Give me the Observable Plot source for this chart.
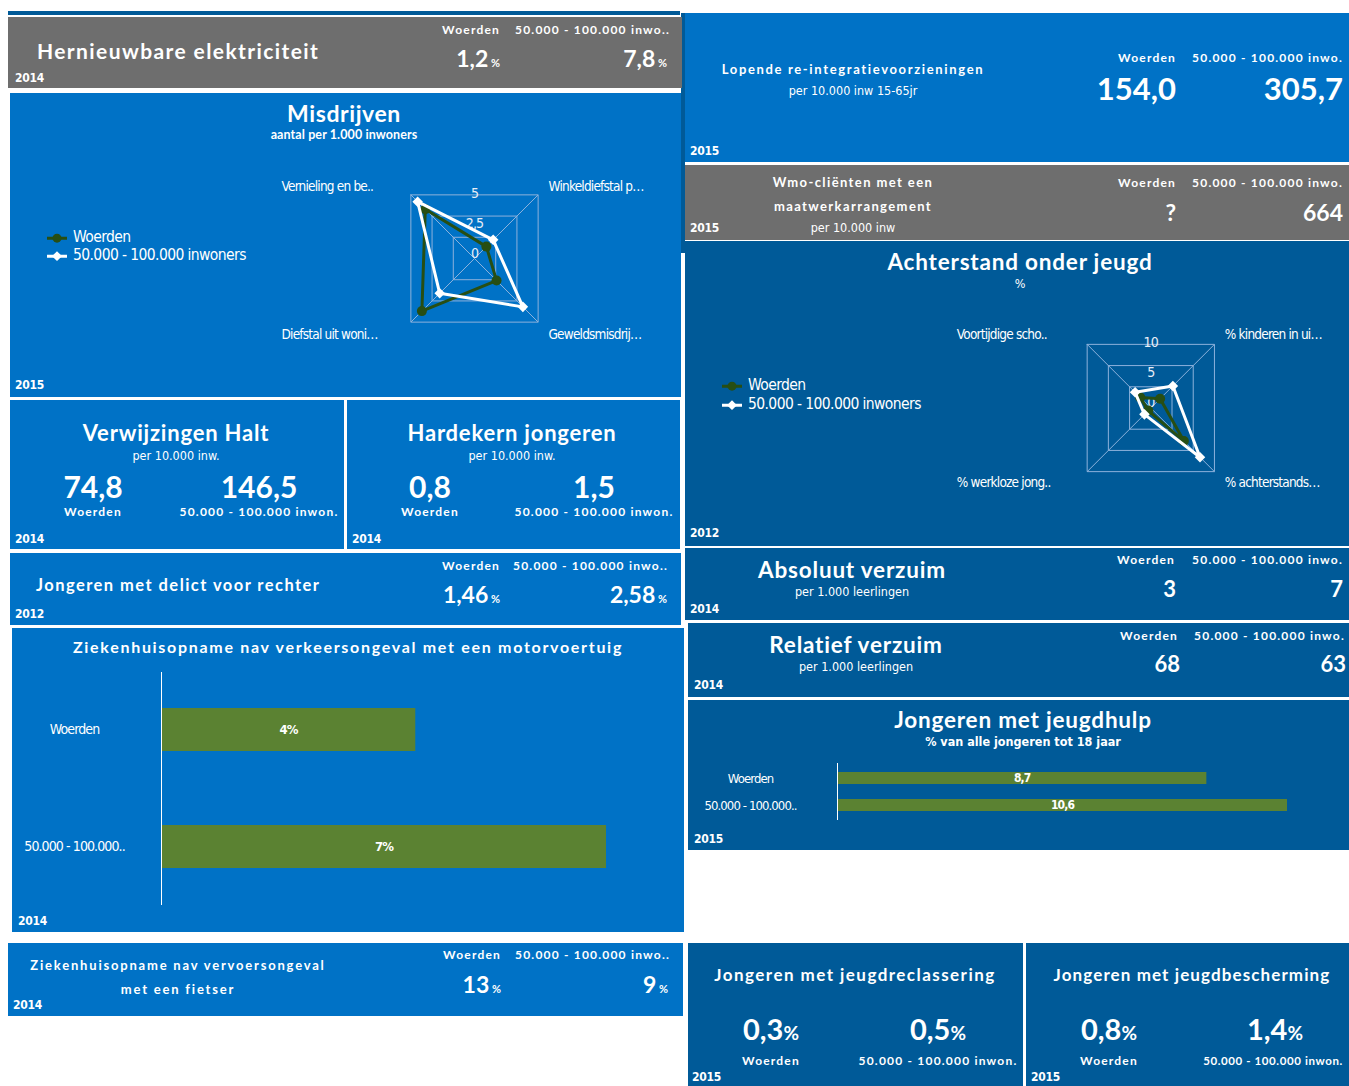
<!DOCTYPE html>
<html><head><meta charset="utf-8">
<script src="https://cdn.jsdelivr.net/npm/d3@7"></script>
<script src="https://cdn.jsdelivr.net/npm/@observablehq/plot@0.6"></script>
<style>
body{margin:0;background:#fff;width:1349px;height:1086px;overflow:hidden;position:relative;font-family:Lato,"Open Sans",sans-serif;}
.p{position:absolute;overflow:hidden;color:#fff;}
.t{position:absolute;white-space:nowrap;line-height:1;}
.p svg{position:absolute;left:0;top:0;}
</style></head><body><script>
// ---------- data ----------
const groups = ["Woerden", "50.000 - 100.000 inwoners"];
const misdrijvenCats = ["Vernieling en be..", "Winkeldiefstal p…", "Geweldsmisdrij…", "Diefstal uit woni…"];
const misdrijvenWoerden = [5.8, 1.4, 2.6, 6.2];
const misdrijvenRef = [6.7, 2.2, 5.7, 4.1];
const misdrijvenRings = [2.5, 5, 7.5];
const misdrijvenTicks = [0, 2.5, 5];
const achterstandCats = ["Voortijdige scho..", "% kinderen in ui…", "% achterstands…", "% werkloze jong.."];
const achterstandWoerden = [2.5, 2.2, 7.8, 0.6];
const achterstandRef = [3.7, 5.2, 11.6, 1.5];
const achterstandRings = [5, 10, 15];
const achterstandTicks = [0, 5, 10];
const motorCats = ["Woerden", "50.000 - 100.000.."];
const motorValues = [4, 7];
const jeugdhulpCats = ["Woerden", "50.000 - 100.000.."];
const jeugdhulpValues = [8.7, 10.6];
const hernieuwbare = ["1,2", "7,8"];
const reintegratie = ["154,0", "305,7"];
const wmo = ["?", "664"];
const halt = ["74,8", "146,5"];
const hardekern = ["0,8", "1,5"];
const delict = ["1,46", "2,58"];
const fietser = ["13", "9"];
const absVerzuim = ["3", "7"];
const relVerzuim = ["68", "63"];
const reclassering = ["0,3", "0,5"];
const bescherming = ["0,8", "1,4"];

// ---------- styles ----------
const BLUE = "#0072c6", DARK = "#005a98", GRAY = "#6e6e6e", GREEN = "#5b8232", WGREEN = "#274e13";
const NARROW = '"Liberation Sans Narrow","DejaVu Sans Condensed","Liberation Sans",sans-serif';
const TITLE = 'Lato,"Open Sans",sans-serif';

function panel(x, y, w, h, bg) {
  const d = document.createElement("div");
  d.className = "p";
  Object.assign(d.style, {left: x + "px", top: y + "px", width: w + "px", height: h + "px", background: bg});
  d._x = x; d._y = y;
  document.body.appendChild(d);
  return d;
}
function T(p, html, x, y, o = {}) {
  const d = document.createElement("div");
  d.className = "t";
  d.innerHTML = html;
  const a = o.anchor || "start";
  const tx = a === "middle" ? "-50%" : a === "end" ? "-100%" : "0";
  Object.assign(d.style, {
    left: (x - p._x) + "px", top: (y - p._y) + "px",
    transform: `translate(${tx},-50%)`,
    fontSize: (o.size || 12) + "px",
    fontWeight: o.weight || "bold",
    fontFamily: o.font || TITLE,
    letterSpacing: (o.ls || 0) + "px",
    color: o.color || "#fff"
  });
  p.appendChild(d);
  return d;
}
const year = (p, s, x, y) => T(p, s, x, y, {size: 12, font: NARROW, ls: -0.3});
const head = (p, s, x, y, a = "end", size = 12, ls = 1.2) => T(p, s, x, y, {size, ls, anchor: a});
const pct = (v, s = 11) => `${v}<span style="font-size:${s}px"> %</span>`;
const pct2 = (v, s = 19) => `${v}<span style="font-size:${s}px">%</span>`;

function legend(p, x, y1, y2) {
  const mk = [
    `<svg width="20" height="12" style="position:static;vertical-align:middle"><line x1="0" y1="6" x2="20" y2="6" stroke="${WGREEN}" stroke-width="3"/><circle cx="10" cy="6" r="4.5" fill="${WGREEN}"/></svg>`,
    `<svg width="20" height="12" style="position:static;vertical-align:middle"><line x1="0" y1="6" x2="20" y2="6" stroke="#fff" stroke-width="3"/><rect x="6.5" y="2.5" width="7" height="7" fill="#fff" transform="rotate(45 10 6)"/></svg>`
  ];
  [y1, y2].forEach((y, i) => {
    T(p, `${mk[i]}<span style="margin-left:6px;vertical-align:middle">${groups[i]}</span>`, x, y,
      {size: 15.5, weight: "normal", font: NARROW, ls: -0.6});
  });
}

const fmt = v => String(v).replace(".", ",");

function radar(p, o) {
  const ang = o.cats.map((c, i) => (135 - 90 * i) * Math.PI / 180);
  const pt = (v, i) => ({x: v * Math.cos(ang[i]), y: v * Math.sin(ang[i])});
  const maxR = d3.max(o.rings);
  const ring = o.rings.flatMap(r => [...o.cats.map((c, i) => ({...pt(r, i), r})), {...pt(r, 0), r}]);
  const spokes = o.cats.map((c, i) => ({x2: pt(maxR, i).x, y2: pt(maxR, i).y}));
  const series = vals => vals.map((v, i) => ({...pt(v, i), cat: o.cats[i], v}));
  const s1 = series(o.a), s2 = series(o.b);
  const closed = s => [...s, s[0]];
  const labels = o.cats.map((c, i) => ({
    c,
    x: (Math.cos(ang[i]) > 0 ? o.lx[1] : o.lx[0]) / o.ppu,
    y: (Math.sin(ang[i]) > 0 ? o.ly[0] : o.ly[1]) / o.ppu
  }));
  const svg = Plot.plot({
    width: o.w, height: o.h, margin: 0,
    x: {domain: [-o.cx / o.ppu, (o.w - o.cx) / o.ppu], axis: null},
    y: {domain: [-(o.h - o.cy) / o.ppu, o.cy / o.ppu], axis: null},
    style: {background: "transparent", fontFamily: NARROW, fontSize: "13px", color: "#fff", overflow: "visible", letterSpacing: "-0.8px"},
    marks: [
      Plot.line(ring, {x: "x", y: "y", z: "r", stroke: "#8db2dc", strokeWidth: 1}),
      Plot.link(spokes, {x1: 0, y1: 0, x2: "x2", y2: "y2", stroke: "#8db2dc", strokeWidth: 1}),
      Plot.text(o.ticks, {x: 0, y: d => d, text: d => fmt(d), dy: -5, fill: "#e8eef7", fontSize: 14}),
      Plot.line(closed(s1), {x: "x", y: "y", stroke: WGREEN, strokeWidth: 3}),
      Plot.dot(s1, {x: "x", y: "y", r: 5, fill: WGREEN}),
      Plot.line(closed(s2), {x: "x", y: "y", stroke: "#fff", strokeWidth: 3}),
      Plot.dot(s2, {x: "x", y: "y", symbol: "square", r: 4.2, fill: "#fff", rotate: 45}),
      Plot.text(labels, {x: "x", y: "y", text: "c", textAnchor: "start", fill: "#fff", fontSize: 13.5})
    ]
  });
  p.appendChild(svg);
}

function bars(p, o) {
  const data = o.cats.map((c, i) => ({c, v: o.values[i], label: o.fmt(o.values[i])}));
  const svg = Plot.plot({
    width: o.w, height: o.h,
    marginLeft: o.ml, marginRight: o.mr, marginTop: o.mt, marginBottom: o.mb,
    x: {domain: [0, d3.max(o.values)], axis: null},
    y: {domain: o.cats, paddingInner: o.pi, paddingOuter: o.po, label: null},
    style: {background: "transparent", fontFamily: NARROW, fontSize: o.fs + "px", color: "#fff", overflow: "visible", letterSpacing: "-0.9px"},
    marks: [
      Plot.barX(data, {x: "v", y: "c", fill: GREEN}),
      Plot.ruleX([0], {stroke: "#fff", strokeWidth: 1}),
      Plot.axisY({tickSize: 0, tickPadding: o.tp, textAnchor: "middle", fill: "#fff", fontSize: o.fs, label: null}),
      Plot.text(data, {x: d => d.v / 2, y: "c", text: "label", fill: "#fff", fontWeight: "bold", fontSize: o.vs})
    ]
  });
  p.appendChild(svg);
}

// ---------- left column ----------
panel(8, 11, 672, 4, DARK);
panel(681, 13, 4, 240, DARK);

let p = panel(8, 17, 674, 71, GRAY);
T(p, "Hernieuwbare elektriciteit", 37, 50, {size: 21, ls: 1.4});
year(p, "2014", 15, 78);
head(p, "Woerden", 500, 30); head(p, "50.000 - 100.000 inwo..", 670, 30);
T(p, pct(hernieuwbare[0]), 500, 58, {size: 23, anchor: "end"});
T(p, pct(hernieuwbare[1]), 667, 58, {size: 23, anchor: "end"});

p = panel(10, 93, 671, 304, BLUE);
T(p, "Misdrijven", 344, 113, {size: 23, ls: 0.6, anchor: "middle"});
T(p, "aantal per 1.000 inwoners", 344, 135, {size: 12.5, anchor: "middle", ls: 0.1});
year(p, "2015", 15, 385);
legend(p, 47, 238, 256);
radar(p, {cats: misdrijvenCats, a: misdrijvenWoerden, b: misdrijvenRef, rings: misdrijvenRings, ticks: misdrijvenTicks,
  w: 671, h: 304, cx: 464, cy: 165, ppu: 12, lx: [-193, 74], ly: [72, -76]});

p = panel(10, 400, 334, 149, BLUE);
T(p, "Verwijzingen Halt", 176, 433, {size: 22, ls: 0.8, anchor: "middle"});
T(p, "per 10.000 inw.", 176, 456, {size: 12.5, font: NARROW, weight: "normal", anchor: "middle"});
T(p, halt[0], 93, 486, {size: 30, anchor: "middle"});
T(p, halt[1], 259, 486, {size: 30, anchor: "middle"});
head(p, "Woerden", 93, 512, "middle"); head(p, "50.000 - 100.000 inwon.", 259, 512, "middle");
year(p, "2014", 15, 539);

p = panel(347, 400, 333, 149, BLUE);
T(p, "Hardekern jongeren", 512, 433, {size: 22, ls: 0.8, anchor: "middle"});
T(p, "per 10.000 inw.", 512, 456, {size: 12.5, font: NARROW, weight: "normal", anchor: "middle"});
T(p, hardekern[0], 430, 486, {size: 30, anchor: "middle"});
T(p, hardekern[1], 594, 486, {size: 30, anchor: "middle"});
head(p, "Woerden", 430, 512, "middle"); head(p, "50.000 - 100.000 inwon.", 594, 512, "middle");
year(p, "2014", 352, 539);

p = panel(10, 553, 671, 72, BLUE);
T(p, "Jongeren met delict voor rechter", 36, 585, {size: 16.5, ls: 1.45});
head(p, "Woerden", 500, 566); head(p, "50.000 - 100.000 inwo..", 668, 566);
T(p, pct(delict[0]), 500, 594, {size: 23, anchor: "end"});
T(p, pct(delict[1]), 667, 594, {size: 23, anchor: "end"});
year(p, "2012", 15, 614);

p = panel(12, 628, 672, 304, BLUE);
T(p, "Ziekenhuisopname nav verkeersongeval met een motorvoertuig", 348, 647, {size: 16, ls: 1.7, anchor: "middle"});
year(p, "2014", 18, 921);
bars(p, {cats: motorCats, values: motorValues, fmt: v => v + "%", w: 672, h: 304, ml: 149, mr: 78, mt: 44, mb: 27,
  pi: 0.63, po: 0.31, tp: 87, fs: 14, vs: 13});

p = panel(8, 943, 675, 73, BLUE);
T(p, "Ziekenhuisopname nav vervoersongeval", 178, 965, {size: 13, ls: 1.8, anchor: "middle"});
T(p, "met een fietser", 178, 989, {size: 13, ls: 1.8, anchor: "middle"});
head(p, "Woerden", 501, 955); head(p, "50.000 - 100.000 inwo..", 670, 955);
T(p, pct(fietser[0]), 501, 984, {size: 23, anchor: "end"});
T(p, pct(fietser[1]), 668, 984, {size: 23, anchor: "end"});
year(p, "2014", 13, 1005);

// ---------- right column ----------
p = panel(685, 13, 664, 149, BLUE);
T(p, "Lopende re-integratievoorzieningen", 853, 69, {size: 13, ls: 1.65, anchor: "middle"});
T(p, "per 10.000 inw 15-65jr", 853, 91, {size: 12.5, font: NARROW, weight: "normal", anchor: "middle"});
head(p, "Woerden", 1176, 58); head(p, "50.000 - 100.000 inwo.", 1343, 58);
T(p, reintegratie[0], 1176, 88, {size: 31, anchor: "end"});
T(p, reintegratie[1], 1343, 88, {size: 31, anchor: "end"});
year(p, "2015", 690, 151);

p = panel(685, 165, 664, 75, GRAY);
T(p, "Wmo-cliënten met een", 853, 182, {size: 13, ls: 1.4, anchor: "middle"});
T(p, "maatwerkarrangement", 853, 206, {size: 13, ls: 1.4, anchor: "middle"});
T(p, "per 10.000 inw", 853, 228, {size: 12.5, font: NARROW, weight: "normal", anchor: "middle"});
head(p, "Woerden", 1176, 183); head(p, "50.000 - 100.000 inwo.", 1343, 183);
T(p, wmo[0], 1176, 212, {size: 23, anchor: "end"});
T(p, wmo[1], 1343, 212, {size: 23, anchor: "end"});
year(p, "2015", 690, 228);

p = panel(685, 241, 664, 305, DARK);
T(p, "Achterstand onder jeugd", 1020, 262, {size: 22.5, ls: 0.8, anchor: "middle"});
T(p, "%", 1020, 284, {size: 12.5, font: NARROW, weight: "normal", anchor: "middle"});
year(p, "2012", 690, 533);
legend(p, 722, 386, 405);
radar(p, {cats: achterstandCats, a: achterstandWoerden, b: achterstandRef, rings: achterstandRings, ticks: achterstandTicks,
  w: 664, h: 305, cx: 465.3, cy: 166.5, ppu: 6, lx: [-194, 74], ly: [73.5, -74.5]});

p = panel(685, 548, 664, 72, DARK);
T(p, "Absoluut verzuim", 852, 570, {size: 22.5, ls: 0.8, anchor: "middle"});
T(p, "per 1.000 leerlingen", 852, 592, {size: 12.5, font: NARROW, weight: "normal", anchor: "middle"});
head(p, "Woerden", 1175, 560); head(p, "50.000 - 100.000 inwo.", 1343, 560);
T(p, absVerzuim[0], 1176, 589, {size: 22, anchor: "end"});
T(p, absVerzuim[1], 1343, 589, {size: 22, anchor: "end"});
year(p, "2014", 690, 609);

p = panel(688, 623, 661, 74, DARK);
T(p, "Relatief verzuim", 856, 645, {size: 22.5, ls: 0.8, anchor: "middle"});
T(p, "per 1.000 leerlingen", 856, 667, {size: 12.5, font: NARROW, weight: "normal", anchor: "middle"});
head(p, "Woerden", 1178, 636); head(p, "50.000 - 100.000 inwo.", 1345, 636);
T(p, relVerzuim[0], 1180, 664, {size: 22, anchor: "end"});
T(p, relVerzuim[1], 1346, 664, {size: 22, anchor: "end"});
year(p, "2014", 694, 685);

p = panel(688, 700, 661, 150, DARK);
T(p, "Jongeren met jeugdhulp", 1023, 720, {size: 22.5, ls: 0.8, anchor: "middle"});
T(p, "% van alle jongeren tot 18 jaar", 1023, 742, {size: 12.5, font: NARROW, anchor: "middle"});
year(p, "2015", 694, 839);
bars(p, {cats: jeugdhulpCats, values: jeugdhulpValues, fmt: fmt, w: 661, h: 150, ml: 149, mr: 62, mt: 63, mb: 30,
  pi: 0.556, po: 0.296, tp: 87, fs: 13, vs: 12});

p = panel(688, 943, 335, 143, DARK);
T(p, "Jongeren met jeugdreclassering", 855, 974, {size: 17, ls: 1.45, anchor: "middle"});
T(p, pct2(reclassering[0]), 771, 1028, {size: 29, anchor: "middle"});
T(p, pct2(reclassering[1]), 938, 1028, {size: 29, anchor: "middle"});
head(p, "Woerden", 771, 1061, "middle"); head(p, "50.000 - 100.000 inwon.", 938, 1061, "middle");
year(p, "2015", 692, 1077);

p = panel(1026, 943, 323, 143, DARK);
T(p, "Jongeren met jeugdbescherming", 1192, 974, {size: 17, ls: 1.1, anchor: "middle"});
T(p, pct2(bescherming[0]), 1109, 1028, {size: 29, anchor: "middle"});
T(p, pct2(bescherming[1]), 1275, 1028, {size: 29, anchor: "middle"});
head(p, "Woerden", 1109, 1061, "middle"); head(p, "50.000 - 100.000 inwon.", 1273, 1061, "middle", 11.5, 0.6);
year(p, "2015", 1031, 1077);
</script></body></html>
